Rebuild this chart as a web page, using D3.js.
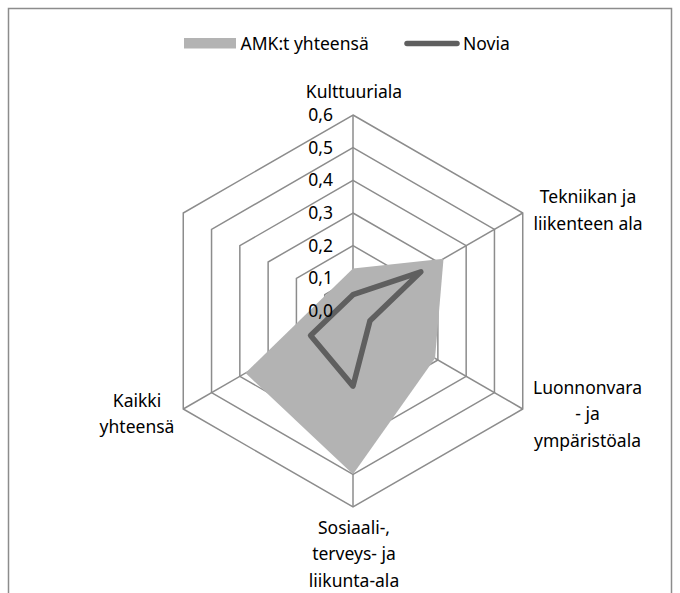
<!DOCTYPE html>
<html>
<head>
<meta charset="utf-8">
<script src="https://cdn.jsdelivr.net/npm/d3@7"></script>
<style>
  body { margin: 0; background: #fff; }
  text { font-family: "Noto Sans", sans-serif; font-size: 17.5px; fill: #000; }
</style>
</head>
<body>
<div id="dataviz"></div>
<script>
// categories clockwise from the top; the last one is blank in the source
var categories = [
  ["Kulttuuriala"],
  ["Tekniikan ja", "liikenteen ala"],
  ["Luonnonvara", "- ja", "ympäristöala"],
  ["Sosiaali-,", "terveys- ja", "liikunta-ala"],
  ["Kaikki", "yhteensä"],
  []
]
var amkValues = [0.13, 0.32, 0.29, 0.50, 0.38, null]
var noviaValues = [0.05, 0.24, 0.06, 0.23, 0.15, null]
var ticks = [0, 0.1, 0.2, 0.3, 0.4, 0.5, 0.6]
var seriesNames = ["AMK:t yhteensä", "Novia"]

var width = 680, height = 593
var cx = 353, cy = 311

var svg = d3.select("#dataviz")
  .append("svg")
    .attr("width", width)
    .attr("height", height)

svg.append("rect")
  .attr("x", 8.5)
  .attr("y", 8.5)
  .attr("width", 663)
  .attr("height", 620)
  .attr("fill", "#fff")
  .attr("stroke", "#8c8c8c")
  .attr("stroke-width", 1.5)

var g = svg.append("g")
  .attr("transform", "translate(" + cx + "," + cy + ")")

var r = d3.scaleLinear()
  .domain([0, 0.6])
  .range([0, 196])

var angle = d3.scaleLinear()
  .domain([0, categories.length])
  .range([0, 2 * Math.PI])

var point = function(i, v) {
  var a = angle(i)
  return [r(v) * Math.sin(a), -r(v) * Math.cos(a)]
}

// hexagon rings
ticks.slice(1).forEach(function(t) {
  g.append("path")
    .attr("d", d3.line()(categories.map(function(c, i) { return point(i, t) })) + "Z")
    .attr("fill", "none")
    .attr("stroke", "#8c8c8c")
    .attr("stroke-width", 1.5)
})

// spokes, only for named categories
categories.forEach(function(c, i) {
  if (!c.length) return
  var p = point(i, 0.6)
  g.append("line")
    .attr("x1", 0).attr("y1", 0)
    .attr("x2", p[0]).attr("y2", p[1])
    .attr("stroke", "#8c8c8c")
    .attr("stroke-width", 1.5)
})

var seriesPath = function(values) {
  var pts = []
  values.forEach(function(v, i) { if (v != null) pts.push(point(i, v)) })
  return d3.line()(pts) + "Z"
}

g.append("path")
  .attr("d", seriesPath(amkValues))
  .attr("fill", "#b3b3b3")

g.append("path")
  .attr("d", seriesPath(noviaValues))
  .attr("fill", "none")
  .attr("stroke", "#5f5f5f")
  .attr("stroke-width", 5.5)
  .attr("stroke-linejoin", "round")

// tick labels
g.selectAll(".tick-label")
  .data(ticks)
  .enter()
  .append("text")
    .attr("class", "tick-label")
    .attr("x", -20)
    .attr("y", function(d) { return -r(d) })
    .attr("dy", "0.34em")
    .style("text-anchor", "end")
    .text(function(d) { return d3.format(".1f")(d).replace(".", ",") })

// category labels
var labelPos = [
  [354, 98],
  [588, 203],
  [587.5, 393.5],
  [354, 533.5],
  [137, 406.5]
]
categories.forEach(function(c, i) {
  if (!c.length) return
  var t = svg.append("text")
    .style("text-anchor", "middle")
  c.forEach(function(line, j) {
    t.append("tspan")
      .attr("x", labelPos[i][0])
      .attr("y", labelPos[i][1] + j * 26.5)
      .text(line)
  })
})

// legend
var legend = svg.append("g")

legend.append("rect")
  .attr("x", 184)
  .attr("y", 38)
  .attr("width", 52)
  .attr("height", 10.5)
  .attr("fill", "#b3b3b3")

legend.append("text")
  .attr("x", 240.5)
  .attr("y", 49.5)
  .text(seriesNames[0])

legend.append("line")
  .attr("x1", 407)
  .attr("x2", 457)
  .attr("y1", 43.5)
  .attr("y2", 43.5)
  .attr("stroke", "#5f5f5f")
  .attr("stroke-width", 5.5)
  .attr("stroke-linecap", "round")

legend.append("text")
  .attr("x", 463)
  .attr("y", 49.5)
  .text(seriesNames[1])
</script>
</body>
</html>
